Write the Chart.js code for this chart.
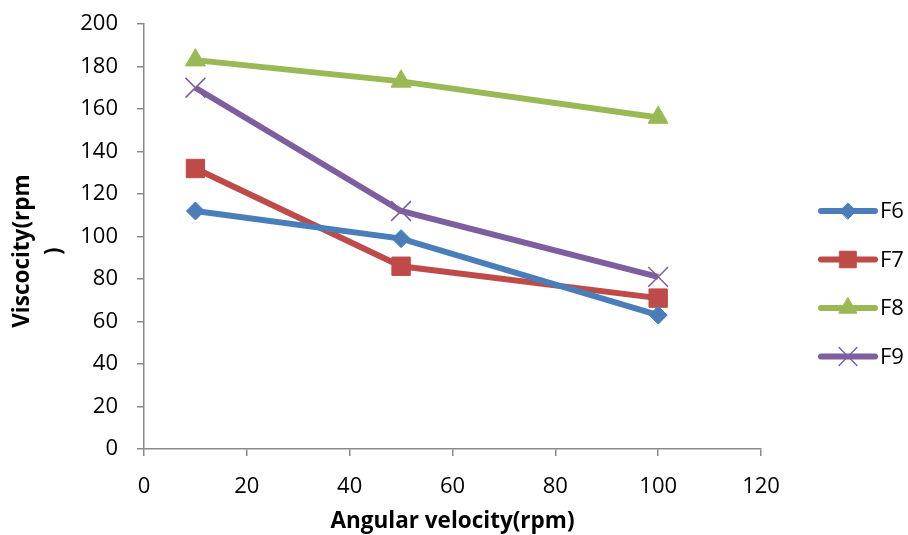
<!DOCTYPE html>
<html>
<head>
<meta charset="utf-8">
<script src="https://cdn.jsdelivr.net/npm/chart.js@4.4.0/dist/chart.umd.min.js"></script>
<style>
  html, body { margin: 0; padding: 0; background: #fff; }
  #graphique { display: block; }
</style>
</head>
<body>
<canvas id="graphique" width="908" height="535"></canvas>
<script>
// vitesses angulaires mesurées (rpm)
const vitesses = [10, 50, 100];

// viscosité de chaque formulation
const seriesNoms = ["F6", "F7", "F8", "F9"];
const f6 = [112, 99, 63];
const f7 = [132, 86, 71];
const f8 = [183, 173, 156];
const f9 = [170, 112, 81];

const couleurs = ["#4a7ebb", "#be4b48", "#98b954", "#7d5fa0"];
const formes = ["rectRot", "rect", "triangle", "crossRot"];
const tailles = [9, 13, 11.5, 14];

const police = "'Open Sans', 'Liberation Sans', sans-serif";

function points(valeurs) {
    return vitesses.map((v, i) => ({ x: v, y: valeurs[i] }));
}

const valeurs = [f6, f7, f8, f9];
const datasets = seriesNoms.map((nom, i) => ({
    label: nom,
    data: points(valeurs[i]),
    borderColor: couleurs[i],
    backgroundColor: couleurs[i],
    borderWidth: 6,
    pointStyle: formes[i],
    pointRadius: tailles[i],
    pointHoverRadius: tailles[i],
    pointBackgroundColor: couleurs[i],
    pointBorderColor: couleurs[i],
    pointBorderWidth: formes[i] === "crossRot" ? 1.5 : 1,
    tension: 0,
    clip: false
}));

// légende à droite : trait + marqueur + nom de la série
const legendeLigne = {
    id: "legendeLigne",
    afterDraw(chart) {
        const ctx = chart.ctx;
        const x0 = chart.chartArea.right + 60;
        const y0 = 211;
        const pas = 48.5;
        chart.data.datasets.forEach((ds, i) => {
            const y = y0 + i * pas;
            ctx.save();
            ctx.strokeStyle = ds.borderColor;
            ctx.lineWidth = 6;
            ctx.lineCap = "round";
            ctx.beginPath();
            ctx.moveTo(x0, y);
            ctx.lineTo(x0 + 54, y);
            ctx.stroke();
            ctx.fillStyle = ds.pointBackgroundColor;
            ctx.strokeStyle = ds.pointBorderColor;
            ctx.lineWidth = ds.pointBorderWidth;
            Chart.helpers.drawPoint(ctx, {
                pointStyle: ds.pointStyle,
                rotation: 0,
                radius: ds.pointRadius * 0.9,
                borderWidth: ds.pointBorderWidth
            }, x0 + 27, y);
            ctx.fillStyle = "#000";
            ctx.font = "22px " + police;
            ctx.textBaseline = "middle";
            ctx.textAlign = "left";
            ctx.fillText(ds.label, x0 + 59, y + 1);
            ctx.restore();
        });
    }
};

const axeGris = "#8a8a8a";

const config = {
    type: "line",
    data: { datasets: datasets },
    options: {
        responsive: false,
        animation: false,
        events: [],
        layout: { padding: { left: 0, top: 24, right: 147, bottom: 0 } },
        plugins: {
            legend: { display: false },
            tooltip: { enabled: false }
        },
        scales: {
            x: {
                type: "linear",
                min: 0,
                max: 120,
                ticks: {
                    stepSize: 20,
                    color: "#000",
                    padding: 18,
                    font: { family: police, size: 22 }
                },
                grid: {
                    drawOnChartArea: false,
                    drawTicks: true,
                    tickLength: 7,
                    color: axeGris,
                    lineWidth: 1.5
                },
                border: { color: axeGris, width: 1.5 },
                title: {
                    display: true,
                    text: "Angular velocity(rpm)",
                    color: "#000",
                    padding: { top: 0, bottom: 0 },
                    font: { family: police, size: 22.5, weight: "bold" }
                },
                afterFit(scale) { scale.height = 86; }
            },
            y: {
                min: 0,
                max: 200,
                ticks: {
                    stepSize: 20,
                    color: "#000",
                    padding: 19,
                    font: { family: police, size: 22 }
                },
                grid: {
                    drawOnChartArea: false,
                    drawTicks: true,
                    tickLength: 7,
                    color: axeGris,
                    lineWidth: 1.5
                },
                border: { color: axeGris, width: 1.5 },
                title: {
                    display: true,
                    // espaces en fin de ligne : le titre descend un peu sous le milieu de l'axe
                    text: ["Viscocity(rpm     ", ")     "],
                    color: "#000",
                    padding: { top: 7, bottom: 0 },
                    font: { family: police, size: 22.5, weight: "bold", lineHeight: 1.42 }
                },
                afterFit(scale) {
                    scale.width = 144;
                    // le haut de l'axe est fixé par le padding du layout
                    scale.paddingTop = 0;
                    scale.paddingBottom = 0;
                }
            }
        }
    },
    plugins: [legendeLigne]
};

new Chart(document.querySelector("#graphique"), config);
</script>
</body>
</html>
